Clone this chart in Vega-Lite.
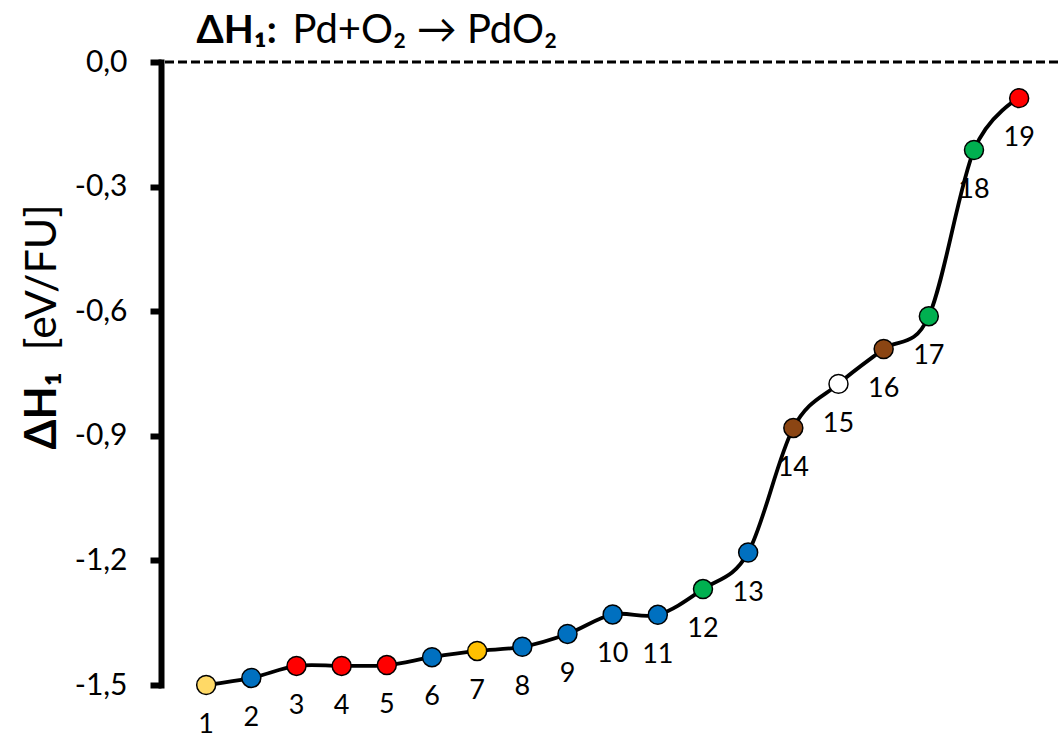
{
  "$schema": "https://vega.github.io/schema/vega-lite/v6.json",
  "width": 897,
  "height": 623,
  "autosize": "none",
  "padding": {"left": 161, "top": 62, "right": 0, "bottom": 54},
  "background": "white",
  "config": {"view": {"stroke": null}, "font": "Lato"},
  "data": {
    "values": [
      {"n": 1, "dh": -1.500, "type": "A"},
      {"n": 2, "dh": -1.483, "type": "B"},
      {"n": 3, "dh": -1.454, "type": "C"},
      {"n": 4, "dh": -1.454, "type": "C"},
      {"n": 5, "dh": -1.452, "type": "C"},
      {"n": 6, "dh": -1.433, "type": "B"},
      {"n": 7, "dh": -1.418, "type": "D"},
      {"n": 8, "dh": -1.408, "type": "B"},
      {"n": 9, "dh": -1.377, "type": "B"},
      {"n": 10, "dh": -1.330, "type": "B"},
      {"n": 11, "dh": -1.331, "type": "B"},
      {"n": 12, "dh": -1.269, "type": "E"},
      {"n": 13, "dh": -1.181, "type": "B"},
      {"n": 14, "dh": -0.881, "type": "F"},
      {"n": 15, "dh": -0.775, "type": "G"},
      {"n": 16, "dh": -0.691, "type": "F"},
      {"n": 17, "dh": -0.612, "type": "E"},
      {"n": 18, "dh": -0.212, "type": "E"},
      {"n": 19, "dh": -0.087, "type": "C"}
    ]
  },
  "resolve": {"axis": {"x": "independent", "y": "independent"}},
  "layer": [
    {
      "data": {"values": [{"ref": 0}]},
      "mark": {"type": "rule", "strokeDash": [9, 4], "strokeWidth": 3, "color": "black"},
      "encoding": {
        "y": {"field": "ref", "type": "quantitative", "scale": {"domain": [-1.5, 0], "nice": false, "zero": false}, "axis": null}
      }
    },
    {
      "mark": {"type": "text", "dy": 40, "fontSize": 27, "font": "Lato", "color": "black", "align": "center", "baseline": "middle"},
      "encoding": {
        "x": {"field": "n", "type": "quantitative", "scale": {"domain": [0, 19.86], "nice": false, "zero": false}, "axis": null},
        "y": {"field": "dh", "type": "quantitative", "axis": null},
        "text": {"field": "n", "type": "quantitative"}
      }
    },
    {
      "mark": {"type": "line", "interpolate": "cardinal", "color": "black", "strokeWidth": 3.8},
      "encoding": {
        "x": {
          "field": "n", "type": "quantitative",
          "axis": {
            "orient": "top", "domain": false, "ticks": false, "labels": false, "grid": false,
            "title": "Pd+O₂ → PdO₂", "titleFont": "Lato", "titleFontSize": 40, "titleFontWeight": "normal", "titleColor": "black",
            "titleX": 131, "titleY": -20, "titleAlign": "left", "titleBaseline": "alphabetic", "titleAngle": 0
          }
        },
        "y": {
          "field": "dh", "type": "quantitative",
          "axis": {
            "orient": "left",
            "values": [-1.5, -1.2, -0.9, -0.6, -0.3, 0],
            "labelExpr": "replace(replace(format(datum.value, '.1f'), '.', ','), '−', '-')",
            "labelFont": "Lato", "labelFontSize": 30, "labelColor": "black", "labelPadding": 23,
            "tickSize": 11, "tickWidth": 6, "tickColor": "black",
            "domainColor": "black", "domainWidth": 6, "domainCap": "square",
            "grid": false,
            "title": "ΔH₁", "titleFont": "Lato", "titleFontSize": 43, "titleFontWeight": "bold", "titleColor": "black",
            "titleAngle": -90, "titleX": -106, "titleY": 387, "titleAlign": "left", "titleBaseline": "alphabetic"
          }
        }
      }
    },
    {
      "mark": {"type": "circle", "size": 360, "stroke": "black", "strokeWidth": 1.5, "opacity": 1},
      "encoding": {
        "x": {
          "field": "n", "type": "quantitative",
          "axis": {
            "orient": "bottom", "domain": false, "ticks": false, "labels": false, "grid": false,
            "title": "ΔH₁:", "titleFont": "Lato", "titleFontSize": 39, "titleFontWeight": "bold", "titleColor": "black",
            "titleX": 35, "titleY": -643, "titleAlign": "left", "titleBaseline": "alphabetic", "titleAngle": 0
          }
        },
        "y": {
          "field": "dh", "type": "quantitative",
          "axis": {
            "orient": "right", "domain": false, "ticks": false, "labels": false, "grid": false,
            "title": "[eV/FU]", "titleFont": "Lato", "titleFontSize": 43, "titleFontWeight": "normal", "titleColor": "black",
            "titleAngle": -90, "titleX": -1003, "titleY": 288, "titleAlign": "left", "titleBaseline": "alphabetic"
          }
        },
        "fill": {
          "field": "type", "type": "nominal", "legend": null,
          "scale": {"domain": ["A", "B", "C", "D", "E", "F", "G"], "range": ["#FFD966", "#0070C0", "#FF0000", "#FFC000", "#00B050", "#8B4513", "#FFFFFF"]}
        }
      }
    }
  ]
}
